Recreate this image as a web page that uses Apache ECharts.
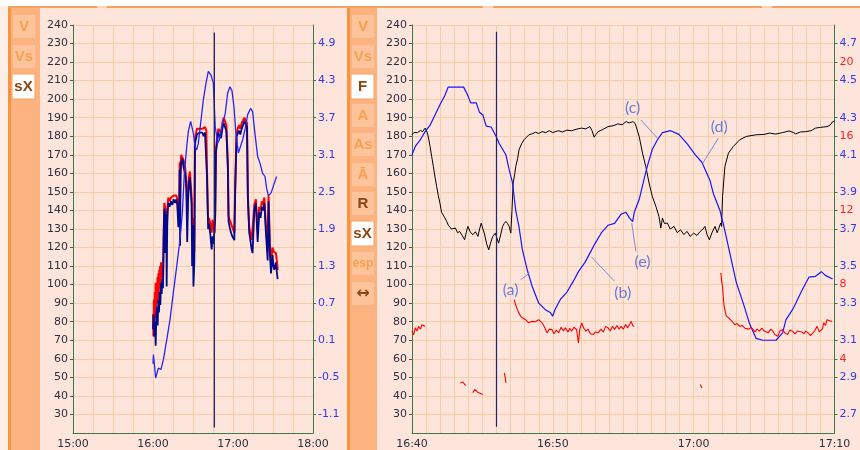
<!DOCTYPE html>
<html><head><meta charset="utf-8">
<script src="https://cdn.jsdelivr.net/npm/echarts@6.0.0/dist/echarts.min.js"></script>
<style>html,body{margin:0;padding:0;background:#fff}#c{width:860px;height:450px}</style>
</head><body><div id="c"></div>
<script>
// ---------- tick labels ----------
const leftTimeTicks = ['15:00','16:00','17:00','18:00'];
const rightTimeTicks = ['16:40','16:50','17:00','17:10'];
const primaryTicks = [30,40,50,60,70,80,90,100,110,120,130,140,150,160,170,180,190,200,210,220,230,240];
const leftSpeedTicks = [-1.1,-0.5,0.1,0.7,1.3,1.9,2.5,3.1,3.7,4.3,4.9];
const rightSpeedTicks = [2.7,2.9,3.1,3.3,3.5,3.7,3.9,4.1,4.3,4.5,4.7];
const rightRedTicks = [4,8,12,16,20];

// ---------- left panel series ----------
const leftRed = [
['16:00:00',84],['16:00:20',72],['16:00:40',92],['16:01:00',80],['16:01:20',96],['16:01:40',82],['16:02:00',101],['16:02:20',88],
['16:02:40',100],['16:03:00',90],['16:03:20',104],['16:03:40',92],['16:04:00',106],['16:04:20',96],['16:04:40',108],['16:05:00',98],
['16:05:20',110],['16:05:40',100],['16:06:00',112],['16:06:30',104],['16:07:00',108],['16:07:30',102],['16:08:00',128],['16:08:30',144],
['16:09:00',142],['16:09:30',140],['16:10:00',141],['16:10:30',134],['16:11:00',143],['16:11:30',147],['16:12:30',145],['16:13:30',147],
['16:14:30',146],['16:15:30',148],['16:16:30',147],['16:17:30',148],['16:18:15',146],['16:19:00',136],['16:19:40',141],['16:20:00',166],
['16:20:20',146],['16:20:40',165],['16:21:10',170],['16:22:00',171],['16:23:00',167],['16:24:00',164],['16:25:00',156],['16:25:40',140],
['16:26:20',150],['16:27:00',158],['16:27:40',161],['16:28:20',154],['16:29:00',147],['16:29:20',125],['16:29:50',136],['16:30:20',115],
['16:31:00',118],['16:31:30',178],['16:32:00',181],['16:33:00',184],['16:34:00',183],['16:35:00',184],['16:36:00',183],['16:37:00',184],
['16:38:00',183],['16:39:00',185],['16:40:00',183],['16:40:30',162],['16:41:20',134],['16:42:00',136],['16:43:00',133],['16:44:00',128],
['16:44:40',135],['16:45:30',131],['16:46:10',128],['16:46:40',140],['16:47:12',173],['16:48:00',179],['16:49:00',184],['16:50:00',184],
['16:51:00',182],['16:52:00',187],['16:53:00',190],['16:54:00',188],['16:55:00',186],['16:56:10',166],['16:56:40',137],['16:57:30',135],
['16:58:30',134],['16:59:30',131],['17:01:00',128],['17:01:40',154],['17:02:40',182],['17:03:30',184],['17:04:30',186],['17:05:30',184],
['17:06:30',187],['17:07:30',188],['17:08:30',190],['17:09:30',189],['17:10:30',187],['17:11:10',148],['17:12:10',131],['17:13:00',128],
['17:14:00',124],['17:14:40',123],['17:16:00',143],['17:17:10',146],['17:18:30',129],['17:19:40',142],['17:20:40',140],['17:21:40',145],
['17:22:40',143],['17:23:30',147],['17:24:40',132],['17:26:00',120],['17:26:40',148],['17:27:40',122],['17:28:30',112],['17:29:40',120],
['17:30:20',118],['17:31:00',119],['17:32:10',117],['17:33:00',112],['17:33:30',108]
];
const leftNavy = [
['16:00:00',76],['16:00:30',84],['16:01:00',72],['16:01:30',80],['16:02:00',67],['16:02:30',83],['16:03:00',88],['16:03:30',78],
['16:04:00',92],['16:04:30',85],['16:05:00',96],['16:05:30',89],['16:06:00',101],['16:06:30',95],['16:07:00',103],['16:07:30',98],
['16:08:00',126],['16:08:30',141],['16:09:00',139],['16:09:12',117],['16:09:30',135],['16:10:00',138],['16:10:15',99],['16:10:40',131],
['16:11:00',140],['16:11:30',144],['16:12:30',142],['16:13:30',145],['16:14:30',143],['16:15:30',146],['16:16:30',144],['16:17:30',146],
['16:18:15',143],['16:19:00',131],['16:19:40',138],['16:20:00',162],['16:20:20',121],['16:20:40',160],['16:21:10',166],['16:22:00',168],
['16:23:00',163],['16:24:00',160],['16:25:00',152],['16:25:40',123],['16:26:20',146],['16:27:00',155],['16:27:40',158],['16:28:20',150],
['16:29:00',143],['16:29:20',110],['16:29:50',132],['16:30:20',99],['16:31:00',112],['16:31:30',176],['16:32:00',178],['16:33:00',181],
['16:34:00',180],['16:35:00',182],['16:36:00',181],['16:37:00',182],['16:38:00',180],['16:39:00',182],['16:40:00',181],['16:40:30',158],
['16:41:20',130],['16:42:00',133],['16:43:00',127],['16:44:00',119],['16:44:40',126],['16:45:30',122],['16:46:10',121],['16:46:40',137],
['16:47:12',171],['16:48:00',176],['16:49:00',182],['16:50:00',181],['16:51:00',179],['16:52:00',184],['16:53:00',187],['16:54:00',186],
['16:55:00',183],['16:56:10',162],['16:56:40',134],['16:57:30',131],['16:58:30',128],['16:59:30',126],['17:01:00',124],['17:01:40',151],
['17:02:40',180],['17:03:30',181],['17:04:30',183],['17:05:30',181],['17:06:30',184],['17:07:30',186],['17:08:30',188],['17:09:30',187],
['17:10:30',185],['17:11:10',146],['17:12:10',128],['17:13:00',124],['17:14:00',119],['17:14:40',117],['17:16:00',140],['17:17:10',144],
['17:18:30',123],['17:19:40',139],['17:20:40',136],['17:21:40',142],['17:22:40',140],['17:23:30',144],['17:24:40',128],['17:26:00',113],
['17:26:40',145],['17:27:40',117],['17:28:30',106],['17:29:40',116],['17:30:20',110],['17:31:00',108],['17:32:10',112],['17:33:00',106],
['17:33:30',103]
];
const leftBlue = [
['16:00:00',-0.28],['16:00:20',-0.13],['16:02:00',-0.51],['16:04:00',-0.35],['16:06:00',-0.37],['16:07:50',-0.21],['16:10:20',0.11],
['16:12:45',0.43],['16:15:15',0.87],['16:17:45',1.29],['16:20:15',1.73],['16:22:00',2.16],['16:23:30',2.80],['16:25:20',3.24],
['16:26:30',3.48],['16:28:15',3.64],['16:30:15',3.45],['16:31:30',3.24],['16:32:45',3.18],['16:34:00',3.29],['16:36:00',3.66],
['16:37:45',3.99],['16:39:45',4.26],['16:41:30',4.45],['16:43:30',4.39],['16:45:15',4.26],['16:46:40',3.56],['16:48:27',3.29],
['16:49:42',3.34],['16:51:00',3.48],['16:52:42',3.64],['16:54:12',3.77],['16:56:00',4.10],['16:57:42',4.20],['16:59:12',4.14],
['17:00:42',3.88],['17:02:12',3.45],['17:04:00',3.13],['17:05:12',3.15],['17:07:12',3.34],['17:09:12',3.53],['17:11:00',3.75],
['17:13:12',3.85],['17:14:42',3.80],['17:16:42',3.40],['17:18:30',3.07],['17:20:12',2.97],['17:22:12',2.80],['17:24:00',2.75],
['17:25:12',2.56],['17:26:30',2.44],['17:28:30',2.48],['17:30:30',2.61],['17:32:42',2.75]
];
const leftCursor = [['16:46',236],['16:46',23]];

// ---------- right panel series ----------
const rightBlack = [
['16:40:00',180.8],['16:40:08',182],['16:40:14',182.6],['16:40:24',182],['16:40:35',183.1],['16:40:45',182.5],['16:40:56',184.4],['16:41:06',181.7],
['16:41:12',178],['16:41:17',174.5],['16:41:24',169],['16:41:31',163.7],['16:41:38',158],['16:41:45',152.9],['16:41:52',148],['16:41:59',144],
['16:42:06',139],['16:42:13',138.6],['16:42:20',136],['16:42:28',134],['16:42:35',132],['16:42:41',131.4],['16:42:48',130],['16:42:55',129.6],
['16:43:05',130.5],['16:43:14',128],['16:43:23',128.7],['16:43:34',126.5],['16:43:44',124.2],['16:43:51',128],['16:43:58',131.4],['16:44:08',128.5],
['16:44:19',126.9],['16:44:30',128.5],['16:44:41',126],['16:44:48',130],['16:44:55',133.2],['16:45:02',130],['16:45:08',127.8],['16:45:18',122],
['16:45:27',118.8],['16:45:36',123],['16:45:44',126],['16:45:55',127.8],['16:46:02',125],['16:46:09',122.4],['16:46:18',127],['16:46:26',131.4],
['16:46:33',133],['16:46:40',134.1],['16:46:47',133],['16:46:54',131.4],['16:47:01',127.8],['16:47:06',140],['16:47:11',154.8],['16:47:18',160],
['16:47:22',163.7],['16:47:30',168],['16:47:36',172.7],['16:47:47',176],['16:47:57',178.1],['16:48:08',179.5],['16:48:18',180.8],['16:48:35',181.5],
['16:48:46',182.2],['16:49:00',181.5],['16:49:14',182.5],['16:49:30',182],['16:49:45',183],['16:50:00',182],['16:50:11',182.5],['16:50:25',183],
['16:50:40',182.3],['16:51:00',183.3],['16:51:06',183.5],['16:51:20',183],['16:51:40',183.8],['16:52:02',184.4],['16:52:20',184],['16:52:38',185.2],
['16:52:47',183],['16:52:56',179.5],['16:53:04',181],['16:53:13',182.5],['16:53:30',183.5],['16:53:55',185.2],['16:54:20',185.8],['16:54:37',186.7],
['16:54:55',186.2],['16:55:12',187.9],['16:55:25',187.2],['16:55:41',187.9],['16:55:50',187],['16:55:55',185.2],['16:56:08',179.8],['16:56:22',170.9],
['16:56:36',163.7],['16:56:50',154.8],['16:57:04',147.5],['16:57:19',142.2],['16:57:32',136.8],['16:57:40',130.5],['16:57:47',135.9],['16:57:55',133],
['16:58:08',133.2],['16:58:20',130],['16:58:36',131.4],['16:58:50',128],['16:59:04',129.6],['16:59:18',127],['16:59:32',128.7],['16:59:45',126],
['17:00:00',127.8],['17:00:14',126.5],['17:00:28',128.7],['17:00:40',130],['17:00:48',131.4],['17:00:57',127],['17:01:07',124.2],['17:01:18',128],
['17:01:31',131.4],['17:01:40',128],['17:01:45',129.6],['17:01:55',133.2],['17:01:59',131.4],['17:02:03',147.5],['17:02:13',163.7],['17:02:28',170.9],
['17:02:49',174.5],['17:03:16',178.1],['17:03:44',179.9],['17:04:26',180.8],['17:05:00',181],['17:05:23',181.7],['17:05:50',181.2],['17:06:19',182],
['17:06:47',182.9],['17:07:05',182],['17:07:15',181.3],['17:07:35',182.3],['17:07:57',182.5],['17:08:20',183],['17:08:39',184.4],['17:09:00',184.8],
['17:09:28',185.2],['17:09:42',186.1],['17:09:52',187.9],['17:10:00',188.2]
];
const rightBlue = [
['16:40:00',4.10],['16:40:14',4.145],['16:40:35',4.18],['16:40:56',4.225],['16:41:17',4.26],['16:41:38',4.315],['16:41:59',4.37],['16:42:20',4.42],
['16:42:34',4.465],['16:43:40',4.465],['16:43:58',4.42],['16:44:10',4.38],['16:44:34',4.38],['16:44:47',4.33],['16:45:02',4.315],['16:45:16',4.255],
['16:45:37',4.25],['16:45:58',4.20],['16:46:12',4.16],['16:46:26',4.13],['16:46:40',4.10],['16:46:54',4.02],['16:47:08',3.95],['16:47:22',3.80],
['16:47:36',3.71],['16:47:50',3.59],['16:48:11',3.48],['16:48:32',3.39],['16:49:00',3.30],['16:49:28',3.265],['16:49:49',3.25],['16:49:59',3.23],
['16:50:11',3.27],['16:50:32',3.32],['16:51:00',3.36],['16:51:28',3.42],['16:51:49',3.47],['16:52:17',3.52],['16:52:38',3.57],['16:52:59',3.62],
['16:53:27',3.68],['16:53:55',3.72],['16:54:23',3.73],['16:54:51',3.78],['16:55:12',3.79],['16:55:26',3.76],['16:55:40',3.74],['16:55:47',3.79],
['16:56:08',3.86],['16:56:29',3.97],['16:56:43',4.04],['16:57:04',4.13],['16:57:25',4.18],['16:57:47',4.22],['16:58:22',4.23],['16:58:57',4.21],
['16:59:32',4.16],['17:00:07',4.10],['17:00:35',4.06],['17:01:10',3.96],['17:01:24',3.89],['17:01:52',3.80],['17:01:59',3.76],['17:02:06',3.73],
['17:02:34',3.57],['17:03:02',3.41],['17:03:31',3.30],['17:03:58',3.19],['17:04:26',3.11],['17:04:55',3.10],['17:05:51',3.10],['17:06:19',3.14],
['17:06:33',3.21],['17:07:01',3.265],['17:07:15',3.30],['17:07:36',3.355],['17:07:50',3.39],['17:08:11',3.44],['17:08:39',3.445],['17:09:04',3.47],
['17:09:21',3.45],['17:09:52',3.43]
];
const rightRed = [
['16:40:00',5.49],['16:40:07',5.3],['16:40:14',5.67],['16:40:21',5.5],['16:40:28',5.75],['16:40:36',5.6],['16:40:42',5.84],['16:40:50',5.8],['16:40:56',5.75],['16:41:10',null],
['16:43:26',2.7],['16:43:36',2.75],['16:43:44',2.65],['16:43:49',2.55],['16:44:00',null],
['16:44:19',2.17],['16:44:27',2.35],['16:44:34',2.43],['16:44:40',2.2],['16:44:47',2.17],['16:44:55',2.12],['16:45:01',2.08],['16:45:20',null],
['16:46:33',3.24],['16:46:37',3.0],['16:46:40',2.7],['16:47:00',null],
['16:47:15',7.19],['16:47:22',6.9],['16:47:29',6.65],['16:47:36',6.45],['16:47:43',6.29],['16:47:52',6.2],['16:48:04',6.11],['16:48:16',5.95],
['16:48:24',6.05],['16:48:32',6.02],['16:48:45',6.0],['16:49:00',6.11],['16:49:14',5.94],['16:49:25',5.7],['16:49:35',5.4],['16:49:45',5.6],
['16:49:56',5.58],['16:50:05',5.35],['16:50:15',5.55],['16:50:25',5.4],['16:50:35',5.7],['16:50:45',5.5],['16:50:53',5.67],['16:51:05',5.45],
['16:51:12',5.65],['16:51:20',5.49],['16:51:30',5.7],['16:51:41',5.58],['16:51:49',4.86],['16:51:55',5.6],['16:52:03',5.94],['16:52:12',5.65],
['16:52:21',5.49],['16:52:30',5.6],['16:52:40',5.35],['16:52:52',5.31],['16:53:02',5.45],['16:53:13',5.4],['16:53:25',5.6],['16:53:35',5.45],
['16:53:45',5.75],['16:53:55',5.67],['16:54:05',5.5],['16:54:14',5.75],['16:54:23',5.58],['16:54:33',5.8],['16:54:42',5.6],['16:54:51',5.75],
['16:55:00',5.6],['16:55:10',5.85],['16:55:19',5.67],['16:55:27',5.85],['16:55:34',6.02],['16:55:40',5.8],['16:55:47',5.75],['16:56:00',null],
['17:00:28',2.61],['17:00:35',2.43],['17:00:50',null],
['17:01:56',8.63],['17:01:59',8.2],['17:02:03',7.9],['17:02:07',7.2],['17:02:10',6.83],['17:02:15',6.5],['17:02:20',6.29],['17:02:30',6.2],
['17:02:34',6.11],['17:02:45',6.0],['17:02:55',5.84],['17:03:05',5.9],['17:03:16',5.75],['17:03:27',5.8],['17:03:38',5.65],['17:03:44',5.72],
['17:03:55',5.6],['17:04:05',5.7],['17:04:13',5.58],['17:04:22',5.45],['17:04:30',5.6],['17:04:40',5.49],['17:04:50',5.65],['17:05:00',5.5],
['17:05:08',5.58],['17:05:18',5.4],['17:05:28',5.6],['17:05:37',5.49],['17:05:47',5.3],['17:05:58',5.22],['17:06:08',5.5],['17:06:19',5.58],
['17:06:28',5.4],['17:06:40',5.31],['17:06:50',5.55],['17:07:01',5.49],['17:07:12',5.35],['17:07:22',5.5],['17:07:29',5.4],['17:07:40',5.45],
['17:07:50',5.35],['17:07:57',5.49],['17:08:08',5.4],['17:08:18',5.25],['17:08:25',5.31],['17:08:35',5.5],['17:08:46',5.75],['17:08:55',5.45],
['17:09:00',5.49],['17:09:08',5.6],['17:09:14',5.94],['17:09:22',5.8],['17:09:28',6.11],['17:09:40',6.05],['17:09:49',6.02]
];
const rightCursor = [['16:46',236.4],['16:46',23.4]];

// annotation labels (data coordinates of the right panel)
const annotations = [
  {label:'(a)', at:['16:47:00',97.3], from:['16:47:43',102.7], to:['16:48:21',106.3]},
  {label:'(b)', at:['16:54:58',95.5], from:['16:54:23',101.8], to:['16:52:44',115]},
  {label:'(e)', at:['16:56:22',112.5], from:['16:55:54',117.9], to:['16:55:36',133.2]},
  {label:'(c)', at:['16:55:40',195.1], from:['16:56:15',188.8], to:['16:57:32',178.1]},
  {label:'(d)', at:['17:01:49',184.9], from:['17:01:45',179], to:['17:00:39',165.5]}
];

// ---------- helpers ----------
const toMin = s => { const p = s.split(':').map(Number); return p[0]*60 + p[1] + (p[2]||0)/60; };
const fmtTime = m => { const h = Math.floor(m/60 + 1e-6); const mm = Math.round(m - h*60); return h + ':' + String(mm).padStart(2,'0'); };
const pts = arr => arr.map(d => [toMin(d[0]), d[1] === null ? '-' : d[1]]);

const GREEN = '#3b7a48', GRIDC = '#f9cca3', BG = '#fde5dc', LBL = '#2f2f3f';
const BLUE_L = '#3636ee', RED_L = '#ff2020';
const FONT = 'DejaVu Sans';

function yPrimary(gi){
  return {gridIndex:gi, type:'value', min:20, max:240, interval:10, position:'left',
    axisLine:{show:true, lineStyle:{color:GREEN, width:1}},
    axisTick:{show:true, length:3, customValues:primaryTicks, lineStyle:{color:'#555'}},
    axisLabel:{customValues:primaryTicks, color:LBL, fontSize:11, fontFamily:FONT, margin:5},
    splitLine:{show:true, lineStyle:{color:GRIDC, width:1}}};
}
function ySecondary(gi, min, max, ticks, color, showLine){
  return {gridIndex:gi, type:'value', min:min, max:max, position:'right',
    axisLine:{show:showLine, lineStyle:{color:GREEN, width:1}},
    axisTick:{show:true, length:3, customValues:ticks, lineStyle:{color:GREEN}},
    axisLabel:{customValues:ticks, color:color, fontSize:11, fontFamily:FONT, margin:5,
      formatter: v => (Math.abs(v) < 20 && ticks[0] % 1 !== 0) ? Number(v).toFixed(1) : String(Math.round(v))},
    splitLine:{show:false}};
}
function xTime(gi, ticks, minorSplit){
  const min = toMin(ticks[0]), max = toMin(ticks[ticks.length-1]);
  return {gridIndex:gi, type:'value', min:min, max:max, interval:toMin(ticks[1]) - min,
    axisLine:{show:true, onZero:false, lineStyle:{color:GREEN, width:1}},
    axisTick:{show:false},
    axisLabel:{color:LBL, fontSize:11, fontFamily:FONT, margin:6, formatter: v => fmtTime(v)},
    splitLine:{show:true, lineStyle:{color:GRIDC, width:1}},
    minorTick:{show:false, splitNumber:minorSplit},
    minorSplitLine:{show:true, lineStyle:{color:GRIDC, width:1}}};
}
function line(xi, yi, data, color, width, z){
  return {type:'line', xAxisIndex:xi, yAxisIndex:yi, data:pts(data), showSymbol:false, symbol:'none',
    connectNulls:false, lineStyle:{color:color, width:width}, itemStyle:{color:color}, z:z, silent:true, animation:false};
}

const chart = echarts.init(document.getElementById('c'), null, {renderer:'canvas'});
const option = {
  animation:false,
  backgroundColor:BG,
  grid:[
    {left:73, top:25, width:240, height:408},
    {left:412, top:25, width:427, height:408}
  ],
  xAxis:[ xTime(0, leftTimeTicks, 4), xTime(1, rightTimeTicks, 10) ],
  yAxis:[
    yPrimary(0),
    ySecondary(0, -1.4, 5.2, leftSpeedTicks, BLUE_L, true),
    yPrimary(1),
    ySecondary(1, 2.6, 4.8, rightSpeedTicks, BLUE_L, true),
    ySecondary(1, 0, 22, rightRedTicks, RED_L, false)
  ],
  series:[
    line(0,0,leftRed,'#ff0000',2,3),
    line(0,0,leftNavy,'#000a8c',1.8,4),
    line(0,1,leftBlue,'#2424ff',1.3,5),
    line(0,0,leftCursor,'#1a2470',1.3,6),
    line(1,2,rightBlack,'#000000',1,3),
    line(1,3,rightBlue,'#1616ff',1.2,4),
    line(1,4,rightRed,'#ff0000',1.1,5),
    line(1,2,rightCursor,'#1a2470',1.2,6)
  ]
};
chart.setOption(option);

// ---------- decorations ----------
const g = [];
function rect(x,y,w,h,fill,stroke){ g.push({type:'rect', silent:true, z:-1, shape:{x:x,y:y,width:w,height:h}, style:{fill:fill, stroke:stroke||null, lineWidth:stroke?1:0}}); }
function txt(x,y,s,fill,font){ g.push({type:'text', silent:true, z:1, x:x, y:y, style:{text:s, fill:fill, font:font, align:'center', verticalAlign:'middle'}}); }
rect(0,0,860,6,'#ffffff');
rect(0,6,8,444,'#fdeee8');
rect(8,6,852,2,'#f5a25e');
rect(97,6,10,2,'#fcd3b5'); rect(483,6,10,2,'#fcd3b5'); rect(762,6,10,2,'#fcd3b5');
// sidebars
[[8,32],[347,30]].forEach(s => { rect(s[0],8,s[1],442,'#fdb37f'); rect(s[0],8,3,442,'#f6953f'); });
const OFF = '#f7a050', ON = '#8a4510', BTN = '#fdc49c';
function btn(x,y,label,state,font){
  const f = font || 'bold 15px "Liberation Sans", Arial, sans-serif';
  if (state === 'on') { rect(x-0.5,y,23,25,'#ffffff','#f5a060'); txt(x+11,y+12.5,label,ON,f); }
  else { rect(x,y,22,23,BTN); txt(x+11,y+11.5,label,state==='dark'?ON:OFF,f); }
}
btn(13,15,'V','off'); btn(13,45,'Vs','off'); btn(12.5,74,'sX','on');
btn(352,15,'V','off'); btn(352,45,'Vs','off'); btn(351.5,74,'F','on');
btn(352,104,'A','off'); btn(352,133,'As','off'); btn(352,163,'Ā','off');
btn(352,192,'R','dark'); btn(351.5,221,'sX','on');
btn(352,252,'esp','off','bold 12px "Liberation Sans", Arial, sans-serif');
btn(352,282,'↔','dark','bold 16px "DejaVu Sans", sans-serif');

// annotations placed through the chart's own scales
const conv = p => chart.convertToPixel({xAxisIndex:1, yAxisIndex:2}, [toMin(p[0]), p[1]]);
annotations.forEach(a => {
  const t = conv(a.at), f = conv(a.from), e = conv(a.to);
  g.push({type:'line', silent:true, z:20, shape:{x1:f[0],y1:f[1],x2:e[0],y2:e[1]}, style:{stroke:'#7d8bd8', lineWidth:1}});
  g.push({type:'text', silent:true, z:21, x:t[0], y:t[1], style:{text:a.label, fill:'#6c7bd4', font:'16px Lato, "Open Sans", sans-serif', align:'center', verticalAlign:'middle'}});
});
chart.setOption({graphic:g});
</script>
</body></html>
